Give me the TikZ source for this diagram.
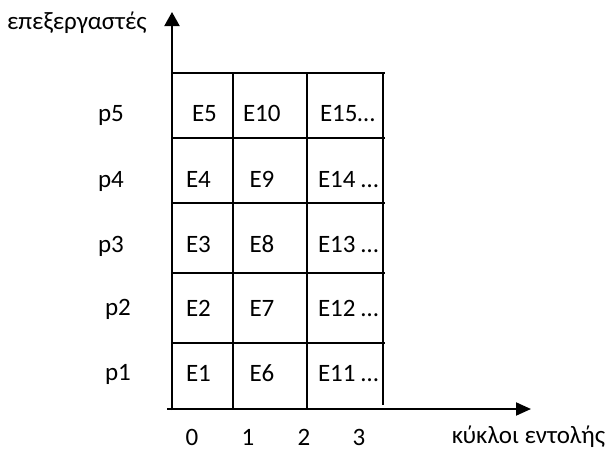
\documentclass[tikz,border=0pt]{standalone}
\usepackage{fontspec}
\setmainfont{Carlito}
\usetikzlibrary{arrows.meta}
\tikzset{
  lbl/.style={inner sep=0pt, outer sep=0pt, anchor=base west,
              font=\fontsize{25}{30}\selectfont},
  axis/.style={line width=2pt, -{Triangle[length=14pt,width=15pt]}},
  gridline/.style={line width=1.8pt},
}
\begin{document}
\begin{tikzpicture}[x=1pt,y=-1pt]
  \useasboundingbox (0,0) rectangle (606,451);

  % axes
  \coordinate (origin) at (172,410);
  \coordinate (xstart) at (167,409);
  \coordinate (ytip) at (172,12);
  \coordinate (xtip) at (531,409);
  \draw[axis] (origin) -- (ytip);
  \draw[axis,-{Triangle[length=15pt,width=13pt]}] (xstart) -- (xtip);

  % table of instructions
  \foreach \y in {73,138,203,273,343}
    \draw[gridline] (172,\y) -- (385,\y);
  \draw[gridline] (233,73) -- (233,409);
  \draw[gridline] (307,73) -- (307,409);
  \draw[gridline] (383,73) -- (383,405);

  % axis titles
  \node[lbl] (ylab) at (7,29) {επεξεργαστές};
  \node[lbl,anchor=base east] (xlab) at (605,443) {κύκλοι εντολής};

  % processors
  \node[lbl] (p5) at (98,121.5) {p5};
  \node[lbl] (p4) at (98,187) {p4};
  \node[lbl] (p3) at (98,252) {p3};
  \node[lbl] (p2) at (105,315.5) {p2};
  \node[lbl] (p1) at (105,380.5) {p1};

  % cycles
  \node[lbl,anchor=base] (c0) at (192,445) {0};
  \node[lbl,anchor=base] (c1) at (248,445) {1};
  \node[lbl,anchor=base] (c2) at (304,445) {2};
  \node[lbl,anchor=base] (c3) at (359,445) {3};

  % instructions in the cells
  \node[lbl] (e5)  at (192,121.5) {E5};
  \node[lbl] (e10) at (243,121.5) {E10};
  \node[lbl] (e15) at (320,121.5) {E15…};

  \node[lbl] (e4)  at (186,187.5) {E4};
  \node[lbl] (e9)  at (249.5,187.5) {E9};
  \node[lbl] (e14) at (318,187.5) {E14 …};

  \node[lbl] (e3)  at (186,252) {E3};
  \node[lbl] (e8)  at (249.5,252) {E8};
  \node[lbl] (e13) at (318,252) {E13 …};

  \node[lbl] (e2)  at (186,316.5) {E2};
  \node[lbl] (e7)  at (249.5,316.5) {E7};
  \node[lbl] (e12) at (318,316.5) {E12 …};

  \node[lbl] (e1)  at (186,381.5) {E1};
  \node[lbl] (e6)  at (249.5,381.5) {E6};
  \node[lbl] (e11) at (318,381.5) {E11 …};
\end{tikzpicture}
\end{document}
